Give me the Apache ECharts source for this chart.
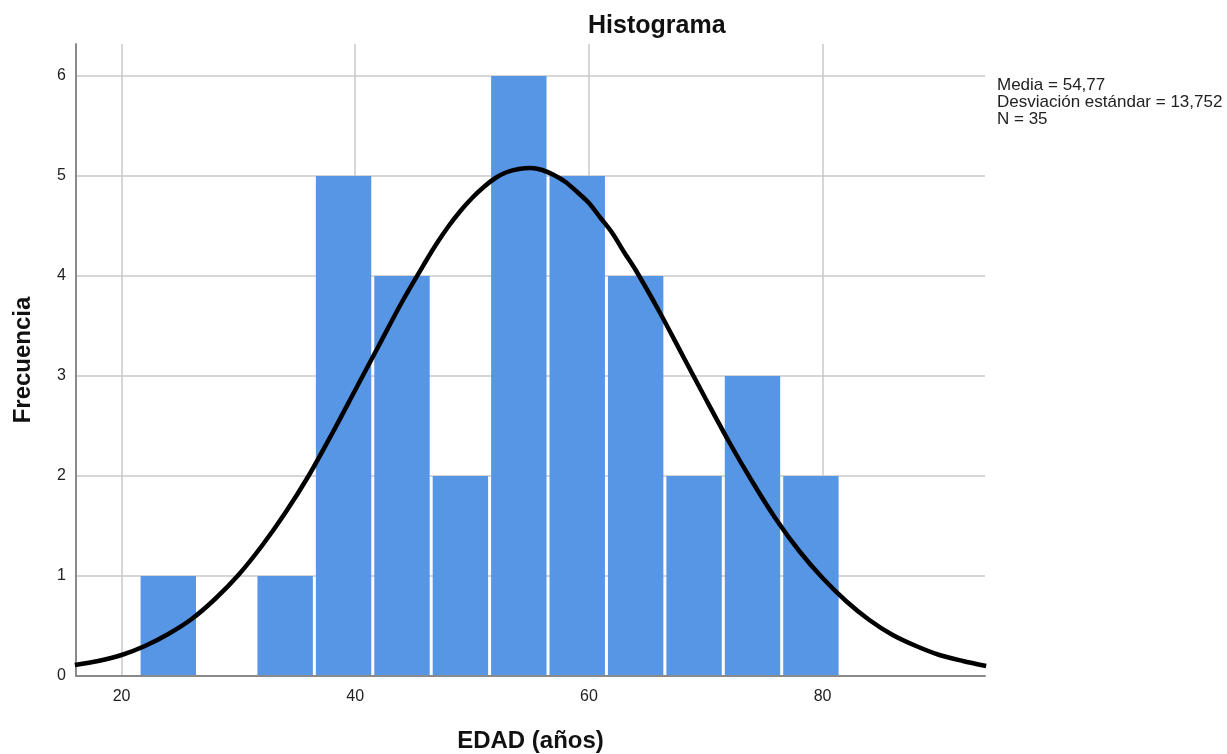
<!DOCTYPE html>
<html><head><meta charset="utf-8">
<script src="https://cdn.jsdelivr.net/npm/echarts@6/dist/echarts.min.js"></script>
<style>html,body{margin:0;padding:0;background:#fff}#c{width:1227px;height:754px}</style>
</head><body><div id="c"></div>
<script>
// Histogram bins (lower edges, width 5) and frequencies
const binStarts = [21.5, 26.5, 31.5, 36.5, 41.5, 46.5, 51.5, 56.5, 61.5, 66.5, 71.5, 76.5];
const binWidth = 5;
const counts = [1, 0, 1, 5, 4, 2, 6, 5, 4, 2, 3, 2];
// Normal curve
const curveX = [16,18,20,22,24,26,28,30,32,34,36,38,40,42,44,46,47,48,49,50,51,52,53,54,55,56,57,58,59,60,61,62,63,64,66,68,70,72,74,76,78,80,82,84,86,88,90,92,94];
const curveY = [0.11,0.15,0.21,0.30,0.42,0.57,0.77,1.01,1.30,1.63,2.00,2.42,2.86,3.30,3.74,4.14,4.33,4.50,4.65,4.78,4.89,4.98,5.04,5.07,5.08,5.06,5.01,4.94,4.84,4.73,4.58,4.43,4.24,4.06,3.65,3.21,2.77,2.34,1.94,1.57,1.25,0.98,0.75,0.56,0.41,0.30,0.21,0.15,0.10];
const xTicks = [20, 40, 60, 80];
const yTicks = [0, 1, 2, 3, 4, 5, 6];
const statsLines = ['Media = 54,77', 'Desviación estándar = 13,752', 'N = 35'];

const chart = echarts.init(document.getElementById('c'));
const barData = binStarts.map((s, i) => [s, s + binWidth, counts[i]]).filter(d => d[2] > 0);
const font = 'Arial, "Liberation Sans", sans-serif';
chart.setOption({
  animation: false,
  textStyle: {fontFamily: font},
  title: {text: 'Histograma', left: 583, top: 9,
    textStyle: {fontSize: 25, fontWeight: 'bold', color: '#111', fontFamily: font}},
  grid: {left: 76, right: 242, top: 44, bottom: 78, containLabel: false, outerBoundsMode: 'none'},
  xAxis: {
    type: 'value', min: 16.1, max: 93.9,
    name: 'EDAD (años)', nameLocation: 'middle', nameGap: 53,
    nameTextStyle: {fontSize: 24, fontWeight: 'bold', color: '#111', fontFamily: font},
    axisLine: {show: true, lineStyle: {color: '#8a8a8a', width: 2}},
    axisTick: {show: false},
    axisLabel: {color: '#222', fontSize: 16, margin: 13,
      formatter: v => xTicks.includes(Math.round(v * 1000) / 1000) ? String(v) : ''},
    splitLine: {show: true, showMinLine: false, showMaxLine: false, lineStyle: {color: '#c8c8c8', width: 1.5}}
  },
  yAxis: {
    type: 'value', min: 0, max: 6.32, interval: 1,
    name: 'Frecuencia', nameLocation: 'middle', nameGap: 41,
    nameTextStyle: {fontSize: 24, fontWeight: 'bold', color: '#111', fontFamily: font},
    axisLine: {show: true, lineStyle: {color: '#8a8a8a', width: 2}},
    axisTick: {show: false},
    axisLabel: {color: '#222', fontSize: 16, margin: 10,
      formatter: v => yTicks.includes(v) ? String(v) : ''},
    splitLine: {show: true, showMinLine: false, showMaxLine: false, lineStyle: {color: '#c8c8c8', width: 1.5}}
  },
  graphic: [{
    type: 'text', left: 997, top: 77,
    style: {text: statsLines.join('\n'), font: '17px ' + font, fill: '#222', lineHeight: 17}
  }],
  series: [{
    type: 'custom',
    data: barData,
    renderItem: function (params, api) {
      const p0 = api.coord([api.value(0), api.value(2)]);
      const p1 = api.coord([api.value(1), 0]);
      const inset = 1.5;
      return {type: 'rect',
        shape: {x: p0[0] + inset, y: p0[1], width: p1[0] - p0[0] - 2 * inset, height: p1[1] - p0[1] - 1},
        style: {fill: '#5796e4'}};
    },
    z: 2
  }, {
    type: 'line', data: curveX.map((x, i) => [x, curveY[i]]),
    smooth: 0.3, showSymbol: false, symbol: 'none',
    lineStyle: {color: '#000', width: 4.5}, z: 5
  }]
});
</script></body></html>
